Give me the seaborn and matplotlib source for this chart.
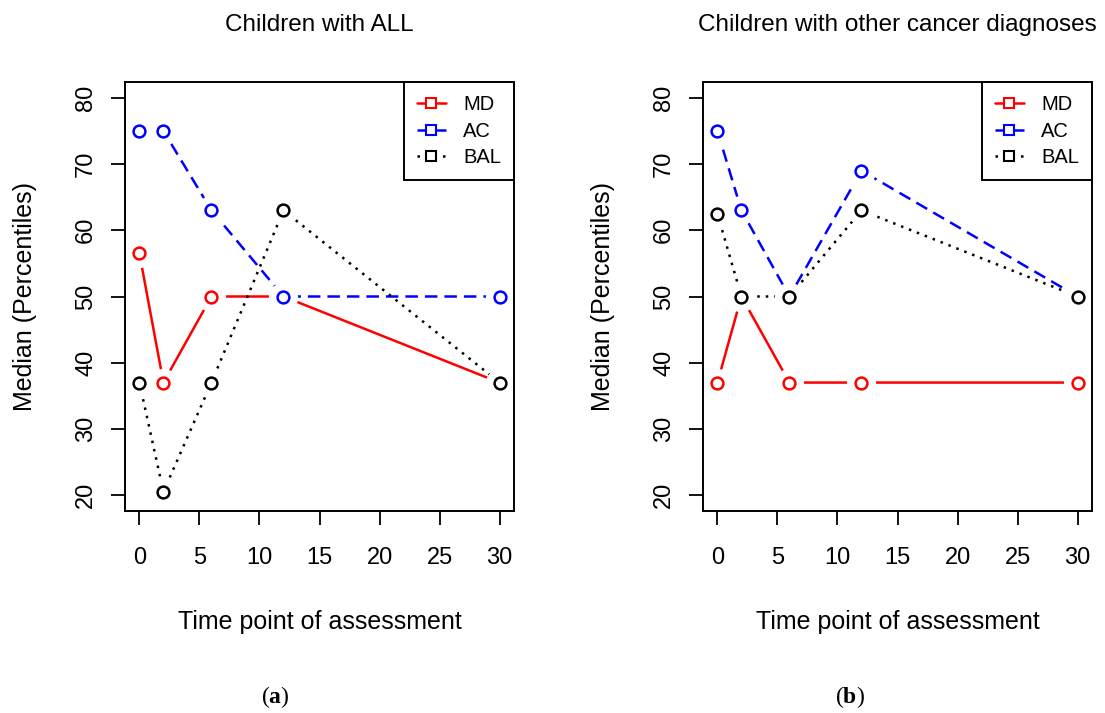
import seaborn as sns
import matplotlib.pyplot as plt
from matplotlib.lines import Line2D

# Data
times = [0, 2, 6, 12, 30]
series_names = ['MD', 'AC', 'BAL']

all_md = [56.5, 37, 50, 50, 37]
all_ac = [75, 75, 63, 50, 50]
all_bal = [37, 20.5, 37, 63, 37]

other_md = [37, 50, 37, 37, 37]
other_ac = [75, 63, 50, 69, 50]
other_bal = [62.5, 50, 50, 63, 50]

panel_titles = ['Children with ALL', 'Children with other cancer diagnoses']
panel_tags = ['a', 'b']

x_ticks = [0, 5, 10, 15, 20, 25, 30]
y_ticks = [20, 30, 40, 50, 60, 70, 80]

# Style
sns.set_style("white")
plt.rcParams['font.family'] = ['Liberation Sans', 'DejaVu Sans']
plt.rcParams['text.color'] = 'black'
plt.rcParams['axes.labelcolor'] = 'black'
plt.rcParams['xtick.color'] = 'black'
plt.rcParams['ytick.color'] = 'black'
plt.rcParams['mathtext.fontset'] = 'custom'
plt.rcParams['mathtext.rm'] = 'Liberation Serif'
plt.rcParams['mathtext.bf'] = 'Liberation Serif:bold'

colors = {'MD': '#ff0000', 'AC': '#0000ff', 'BAL': '#000000'}
styles = {'MD': '-', 'AC': (0, (5, 2.8)), 'BAL': (0, (1, 2.4))}
lw = 1.8

fig = plt.figure(figsize=(11.05, 7.13), dpi=100)
ax_left = fig.add_axes([125 / 1105, 202 / 713, 389 / 1105, 429 / 713])
ax_right = fig.add_axes([703 / 1105, 202 / 713, 389 / 1105, 429 / 713])

panels = [
    (ax_left, [all_md, all_ac, all_bal]),
    (ax_right, [other_md, other_ac, other_bal]),
]

for i, (ax, values) in enumerate(panels):
    for name, vals in zip(series_names, values):
        c = colors[name]
        # line with a white gap around each point (R type="b" look)
        sns.lineplot(x=times, y=vals, ax=ax, color=c, linestyle=styles[name],
                     lw=lw, marker='o', ms=21, mfc='white', mec='white',
                     mew=0, sort=False)
        # hollow circles
        sns.lineplot(x=times, y=vals, ax=ax, color=c, linestyle='none',
                     marker='o', ms=8.5, mfc='none', mec=c, mew=1.8,
                     sort=False)

    ax.set_xlim(-1.2, 31.2)
    ax.set_ylim(17.6, 82.4)
    ax.set_xticks(x_ticks)
    ax.set_yticks(y_ticks)
    ax.tick_params(axis='both', direction='out', length=10, width=1.3,
                   labelsize=17, bottom=True, left=True, color='black')
    ax.tick_params(axis='x', pad=16)
    ax.tick_params(axis='y', pad=10, labelrotation=90)
    for lab in ax.get_yticklabels():
        lab.set_va('center')
    for sp in ax.spines.values():
        sp.set_visible(True)
        sp.set_color('black')
        sp.set_linewidth(1.4)

    ax.set_title(panel_titles[i], fontsize=17.5, pad=37)
    ax.set_xlabel('Time point of assessment', fontsize=18, va='center')
    ax.set_ylabel('Median (Percentiles)', fontsize=18, va='center')
    ax.xaxis.set_label_coords(0.5, -0.259)
    ax.yaxis.set_label_coords(-0.257, 0.5)

    handles = [Line2D([], [], color=colors[n], linestyle=styles[n], lw=lw,
                      marker='s', ms=6.5, mfc='white', mec=colors[n], mew=1.5)
               for n in series_names]
    leg = ax.legend(handles, series_names, loc='upper right', fontsize=14.5,
                    frameon=True, fancybox=False, framealpha=1,
                    edgecolor='black', borderaxespad=0, borderpad=0.65,
                    labelspacing=0.38, handlelength=1.45, handletextpad=0.85)
    leg.get_frame().set_linewidth(1.4)

    cx = [275, 850][i]
    fig.text(cx / 1105, 1 - 697 / 713,
             r'$\mathrm{(}\mathbf{' + panel_tags[i] + r'}\mathrm{)}$',
             ha='center', va='center', fontsize=17)

fig.savefig('out.png', dpi=100)
